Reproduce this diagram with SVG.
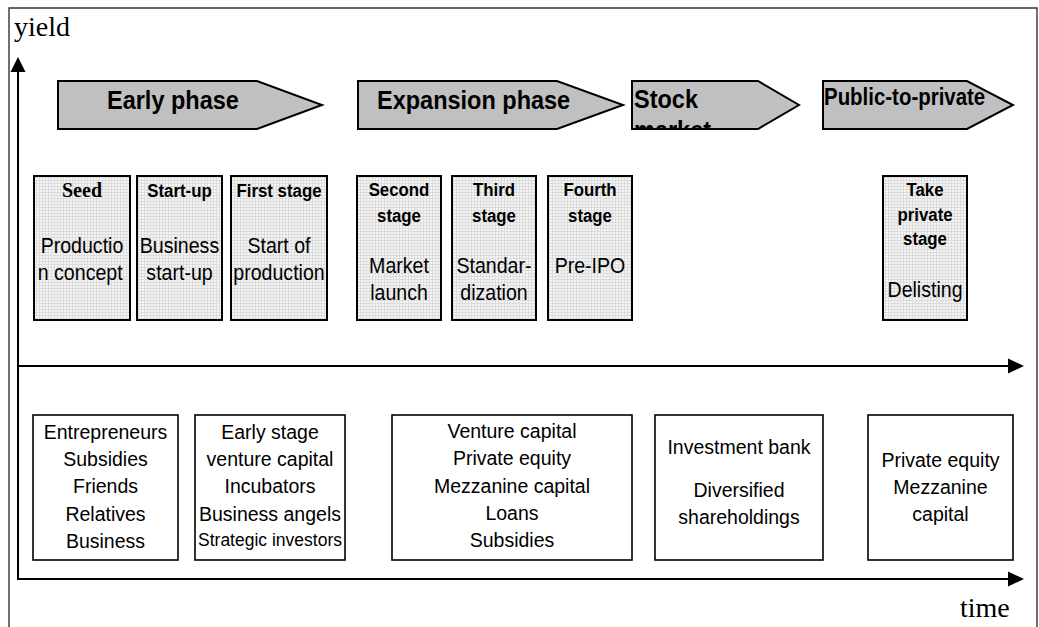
<svg xmlns="http://www.w3.org/2000/svg" width="1039" height="627" viewBox="0 0 1039 627">
<style>
.phase{fill:#c0c0c0;stroke:#000;stroke-width:2}
.ph{font-family:"Liberation Sans",Arial,sans-serif;font-weight:bold;font-size:25px;fill:#000}
.stage{fill:url(#grid);stroke:#000;stroke-width:2}
.sh{font-family:"Liberation Sans",Arial,sans-serif;font-weight:bold;font-size:18.5px;text-anchor:middle;fill:#000}
.sb{font-family:"Liberation Sans",Arial,sans-serif;font-size:21.5px;text-anchor:middle;fill:#000}
.src{fill:#fff;stroke:#000;stroke-width:1.6}
.st{font-family:"Liberation Sans",Arial,sans-serif;font-size:19.5px;text-anchor:middle;fill:#000}
.ax{stroke:#000;stroke-width:2;fill:none}
.lbl{font-family:"Liberation Serif","Times New Roman",serif;font-size:28px;fill:#000}
</style>
<defs>
<pattern id="grid" width="3" height="3" patternUnits="userSpaceOnUse">
<rect width="3" height="3" fill="#f6f6f6"/>
<path d="M0 0.5H3M0.5 0V3" stroke="#dcdcdc" stroke-width="1"/>
</pattern>
<clipPath id="stockClip"><polygon points="632,81 758,81 799,105 758,129 632,129"/></clipPath>
</defs>
<rect width="1039" height="627" fill="#fff"/>
<path d="M9,627 V8 H1037 V627" fill="none" stroke="#333" stroke-width="1.4"/>
<text class="lbl" x="14" y="36">yield</text>
<text class="lbl" x="960" y="617">time</text>

<g id="connectors">
<line class="ax" x1="18" y1="580" x2="18" y2="70"/>
<polygon points="10.5,72 18,57 25.5,72" fill="#000"/>
<line class="ax" x1="18" y1="366" x2="1010" y2="366"/>
<polygon points="1008,358.5 1024,366 1008,373.5" fill="#000"/>
<line class="ax" x1="18" y1="579" x2="1010" y2="579"/>
<polygon points="1008,571.5 1024,579 1008,586.5" fill="#000"/>
</g>

<g id="phase-early">
<polygon class="phase" points="58,81 257,81 322,105 257,129 58,129"/>
<g transform="translate(107,0) scale(0.94,1)"><text class="ph" x="0" y="109">Early phase</text></g>
</g>
<g id="phase-expansion">
<polygon class="phase" points="358,81 557,81 623,105 557,129 358,129"/>
<g transform="translate(377,0) scale(0.94,1)"><text class="ph" x="0" y="109">Expansion phase</text></g>
</g>
<g id="phase-stock">
<polygon class="phase" points="632,81 758,81 799,105 758,129 632,129"/>
<g clip-path="url(#stockClip)">
<g transform="translate(634,0) scale(0.94,1)"><text class="ph" x="0" y="108">Stock</text><text class="ph" x="0" y="139">market</text></g>
</g>
</g>
<g id="phase-p2p">
<polygon class="phase" points="823,81 967,81 1013,105 967,129 823,129"/>
<g transform="translate(824,0) scale(0.87,1)"><text class="ph" x="0" y="105" style="font-size:23.5px">Public-to-private</text></g>
</g>

<g id="stage-seed">
<rect class="stage" x="34" y="176" width="96" height="144"/>
<text x="82" y="197" style="font-family:'Liberation Serif','Times New Roman',serif;font-weight:bold;font-size:20px;text-anchor:middle">Seed</text>
<g transform="translate(82,0) scale(0.91,1)"><text class="sb" x="0" y="253">Productio</text><text class="sb" x="-2" y="280">n concept</text></g>
</g>
<g id="stage-startup">
<rect class="stage" x="137" y="176" width="85" height="144"/>
<g transform="translate(179.5,0) scale(0.91,1)"><text class="sh" x="0" y="197">Start-up</text><text class="sb" x="0" y="253">Business</text><text class="sb" x="0" y="280">start-up</text></g>
</g>
<g id="stage-first">
<rect class="stage" x="231" y="176" width="96" height="144"/>
<g transform="translate(279,0) scale(0.91,1)"><text class="sh" x="0" y="197">First stage</text><text class="sb" x="0" y="253">Start of</text><text class="sb" x="0" y="280">production</text></g>
</g>
<g id="stage-second">
<rect class="stage" x="357" y="176" width="84" height="144"/>
<g transform="translate(399,0) scale(0.91,1)"><text class="sh" x="0" y="196">Second</text><text class="sh" x="0" y="222">stage</text><text class="sb" x="0" y="273">Market</text><text class="sb" x="0" y="300">launch</text></g>
</g>
<g id="stage-third">
<rect class="stage" x="452" y="176" width="84" height="144"/>
<g transform="translate(494,0) scale(0.91,1)"><text class="sh" x="0" y="196">Third</text><text class="sh" x="0" y="222">stage</text><text class="sb" x="0" y="273">Standar-</text><text class="sb" x="0" y="300">dization</text></g>
</g>
<g id="stage-fourth">
<rect class="stage" x="548" y="176" width="84" height="144"/>
<g transform="translate(590,0) scale(0.91,1)"><text class="sh" x="0" y="196">Fourth</text><text class="sh" x="0" y="222">stage</text><text class="sb" x="0" y="273">Pre-IPO</text></g>
</g>
<g id="stage-takeprivate">
<rect class="stage" x="883" y="176" width="84" height="144"/>
<g transform="translate(925,0) scale(0.91,1)"><text class="sh" x="0" y="196">Take</text><text class="sh" x="0" y="221">private</text><text class="sh" x="0" y="245">stage</text><text class="sb" x="0" y="297">Delisting</text></g>
</g>

<g id="src-early">
<rect class="src" x="33" y="415" width="145" height="145"/>
<text class="st" x="105.5" y="439">Entrepreneurs</text>
<text class="st" x="105.5" y="466">Subsidies</text>
<text class="st" x="105.5" y="493">Friends</text>
<text class="st" x="105.5" y="521">Relatives</text>
<text class="st" x="105.5" y="548">Business</text>
</g>
<g id="src-earlyvc">
<rect class="src" x="195" y="415" width="150" height="145"/>
<text class="st" x="270" y="439">Early stage</text>
<text class="st" x="270" y="466">venture capital</text>
<text class="st" x="270" y="493">Incubators</text>
<text class="st" x="270" y="521">Business angels</text>
<text class="st" x="270" y="546" style="font-size:17.5px">Strategic investors</text>
</g>
<g id="src-expansion">
<rect class="src" x="392" y="415" width="240" height="145"/>
<text class="st" x="512" y="438">Venture capital</text>
<text class="st" x="512" y="465">Private equity</text>
<text class="st" x="512" y="493">Mezzanine capital</text>
<text class="st" x="512" y="520">Loans</text>
<text class="st" x="512" y="547">Subsidies</text>
</g>
<g id="src-stock">
<rect class="src" x="655" y="415" width="168" height="145"/>
<text class="st" x="739" y="454">Investment bank</text>
<text class="st" x="739" y="497">Diversified</text>
<text class="st" x="739" y="524">shareholdings</text>
</g>
<g id="src-p2p">
<rect class="src" x="868" y="415" width="145" height="145"/>
<text class="st" x="940.5" y="467">Private equity</text>
<text class="st" x="940.5" y="494">Mezzanine</text>
<text class="st" x="940.5" y="521">capital</text>
</g>
</svg>
